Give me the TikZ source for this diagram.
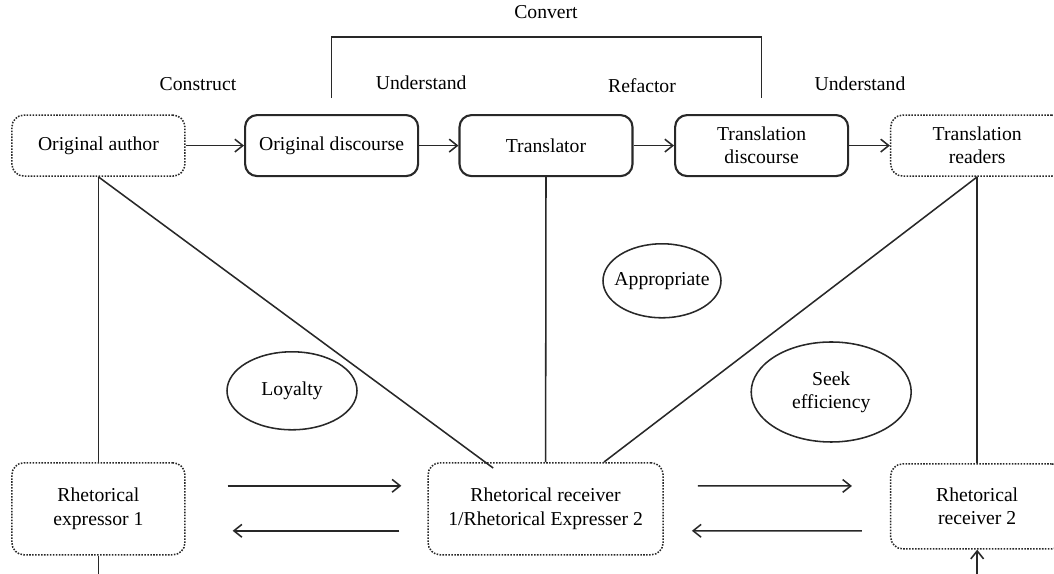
\documentclass[tikz,border=0pt]{standalone}
\usepackage{fontspec}
\setmainfont{Liberation Serif}
\usepackage{tikz}
\usetikzlibrary{calc}
\usetikzlibrary{arrows.meta}
\usetikzlibrary{shapes.geometric}
\usepackage{color}
\definecolor{inkgray}{RGB}{40, 40, 40}

\begin{document}
\begin{tikzpicture}[
        font=\fontsize{14}{16.5}\selectfont,
        every path/.style={color=inkgray, line width=1.1pt},
        solidbox/.style={draw, text=black, rounded corners=0.3cm, line width=1.5pt, align=center,
                         minimum width=4.325cm, minimum height=1.525cm, inner sep=2pt},
        dotbox/.style={solidbox, line width=1.1pt, densely dotted},
        tallbox/.style={dotbox, minimum height=2.3cm},
        oval/.style={draw, text=black, ellipse, inner sep=0pt, align=center},
        flow/.style={-{Straight Barb[length=2mm, width=3.2mm]}}
    ]
            % Frame to ensure alignment:
            \useasboundingbox                                          ( 0.00,  0.00) rectangle (26.35, 14.35);
            % Upper row:
            \node[dotbox]                               (author)      at ( 2.46, 10.71) {Original author};
            \node[solidbox]                             (odisc)       at ( 8.29, 10.71) {Original discourse};
            \node[solidbox]                             (translator)  at (13.65, 10.71) {Translator};
            \node[solidbox]                             (tdisc)       at (19.04, 10.71) {Translation\\discourse};
            \node[dotbox]                               (readers)     at (24.43, 10.71) {Translation\\readers};
            % Lower row:
            \node[tallbox]                              (expr)        at ( 2.46,  1.63) {Rhetorical\\expressor 1};
            \node[tallbox,   minimum width=5.875cm]     (recvone)     at (13.64,  1.63) {Rhetorical receiver\\1/Rhetorical Expresser 2};
            \node[tallbox,   minimum height=2.125cm]    (recvtwo)     at (24.43,  1.69) {Rhetorical\\receiver 2};
            % Ovals:
            \node[oval, minimum width=3.25cm,  minimum height=1.95cm]                     (loyal)  at ( 7.30,  4.58) {Loyalty};
            \node[oval, minimum width=2.95cm,  minimum height=1.85cm, inner xsep=-0.15cm] (approp) at (16.55,  7.33) {Appropriate};
            \node[oval, minimum width=4.00cm,  minimum height=2.50cm]                     (seek)   at (20.78,  4.55) {Seek\\efficiency};
            % Labels:
            \node[text=black]                           (construct)   at ( 4.95, 12.25) {Construct};
            \node[text=black]                           (underone)    at (10.53, 12.27) {Understand};
            \node[text=black]                           (refactor)    at (16.05, 12.22) {Refactor};
            \node[text=black]                           (undertwo)    at (21.50, 12.25) {Understand};
            \node[text=black]                           (convert)     at (13.65, 14.05) {Convert};
            \coordinate                                 (exbot)       at ( 2.46, -0.20);
            \coordinate                                 (rvbot)       at (24.43, -0.20);

            % Chain of the upper row:
            \draw[flow]        (author)     -- (odisc);
            \draw[flow]        (odisc)      -- (translator);
            \draw[flow]        (translator) -- (tdisc);
            \draw[flow]        (tdisc)      -- (readers);
            \draw              ([yshift=0.4cm]odisc.north) -- ++(0, 1.525) -| ([yshift=0.4cm]tdisc.north);

            % Links between rows:
            \draw              (author.south)     -- (expr.north);
            \draw              (author.south)     -- ([xshift=-1.31cm, yshift=-0.15cm]recvone.north);
            \draw              (translator.south) -- (recvone.north);
            \draw              (readers.south)    -- ([xshift=1.46cm]recvone.north);
            \draw              (readers.south)    -- (recvtwo.north);
            \draw              (expr.south)       -- (exbot);
            \draw[flow]        (rvbot)            -- (recvtwo.south);

            % Lower row exchange:
            \draw[flow, shorten <=1.05cm, shorten >=0.65cm]  ([yshift= 0.575cm]expr.east)    -- ([yshift= 0.575cm]recvone.west);
            \draw[flow, shorten <=0.70cm, shorten >=1.175cm] ([yshift=-0.55cm]recvone.west)  -- ([yshift=-0.55cm]expr.east);
            \draw[flow, shorten <=0.85cm, shorten >=0.95cm]  ([yshift= 0.575cm]recvone.east) -- ([yshift= 0.51cm]recvtwo.west);
            \draw[flow, shorten <=0.70cm, shorten >=0.70cm]  ([yshift=-0.61cm]recvtwo.west)  -- ([yshift=-0.55cm]recvone.east);
        \end{tikzpicture}
\end{document}
